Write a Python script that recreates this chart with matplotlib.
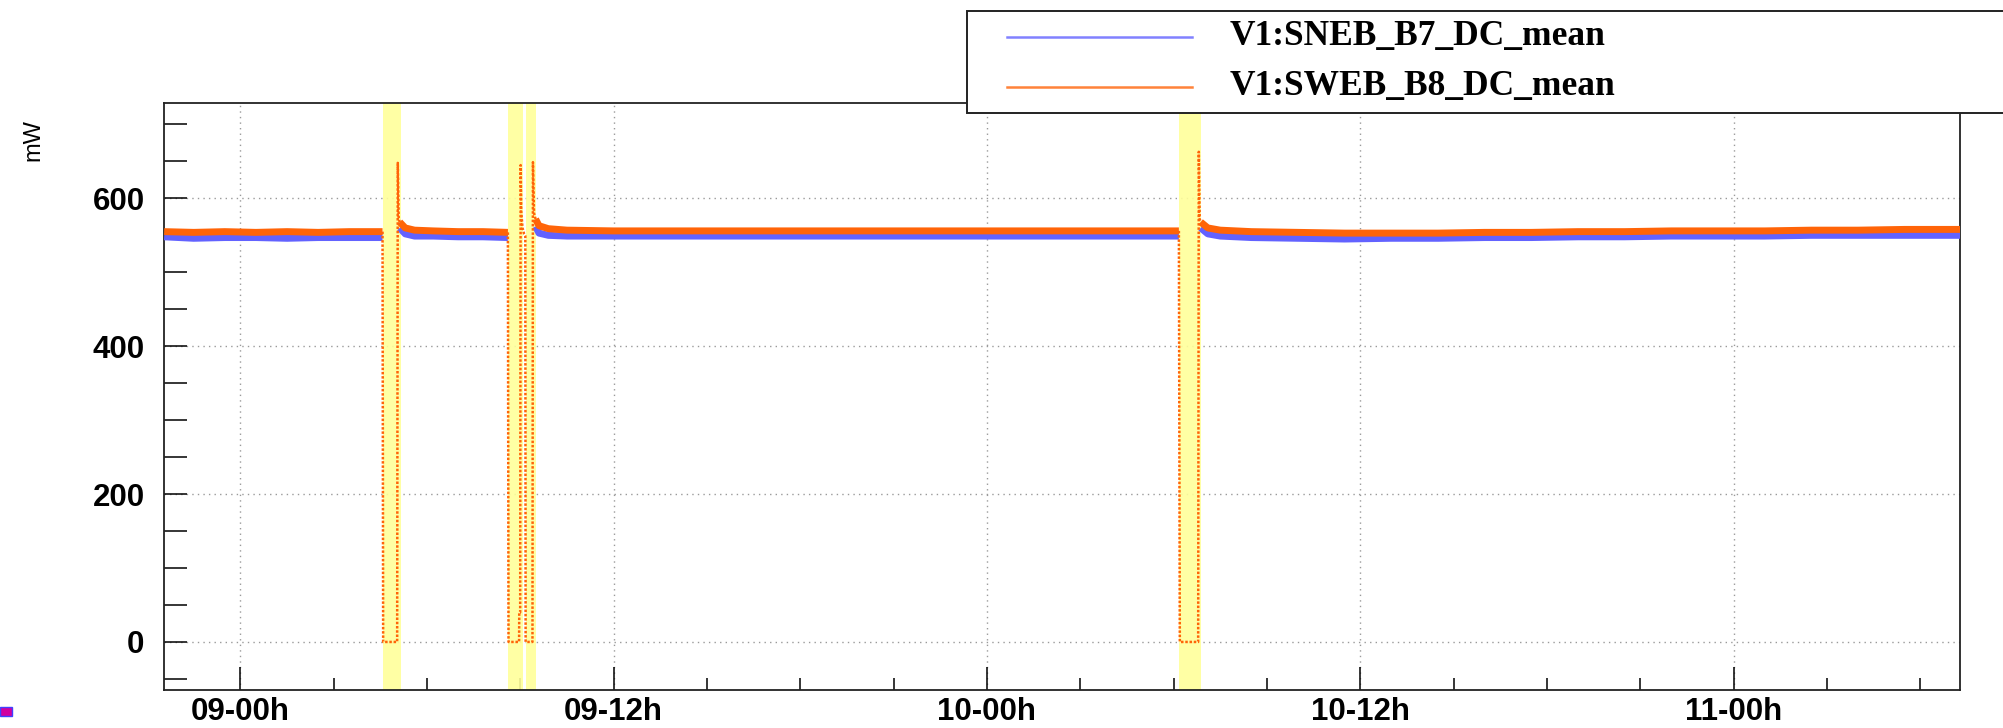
import numpy as np
import matplotlib
matplotlib.use("Agg")
import matplotlib.pyplot as plt
from matplotlib.patches import Rectangle
from matplotlib.lines import Line2D
from matplotlib.ticker import MultipleLocator, FixedLocator

W, H, DPI = 2003, 728, 100

# ---------------- data (time in hours relative to 09-00h) ----------------
series_names = ["V1:SNEB_B7_DC_mean", "V1:SWEB_B8_DC_mean"]
x_tick_hours = [0, 12, 24, 36, 48]
x_tick_labels = ["09-00h", "09-12h", "10-00h", "10-12h", "11-00h"]
y_unit = "mW"

band_starts = [4.57, 8.60, 9.18, 30.17]
band_ends = [5.15, 9.10, 9.49, 30.89]

base_hours = [-2.45, -1.5, -0.5, 0.5, 1.5, 2.5, 3.5, 4.57, 4.8, 5.12, 5.3, 5.6,
              6.2, 7.0, 7.8, 8.60, 8.8, 9.49, 9.6, 9.9, 10.5, 12, 13.5, 15, 16.5,
              18, 19.5, 21, 22.5, 24, 25.5, 27, 28.5, 30.17, 30.5, 30.87, 31.1,
              31.5, 32.5, 34, 35.5, 37, 38.5, 40, 41.5, 43, 44.5, 46, 47.5, 49,
              50.5, 52, 53.5, 55.28]
orange_mw = [555, 554, 555, 554, 555, 554, 555, 555, np.nan, 568, 560, 557,
             556, 555, 555, 554, np.nan, 572, 563, 559, 557, 556, 556, 556, 556,
             556, 556, 556, 556, 556, 556, 556, 556, 556, np.nan, 568, 560,
             557, 555, 554, 553, 553, 553, 554, 554, 555, 555, 556, 556, 556,
             557, 557, 558, 558]
blue_mw = [548, 546, 547, 547, 546, 547, 547, 547, np.nan, 560, 552, 549,
           549, 548, 548, 547, np.nan, 562, 553, 550, 549, 549, 549, 549, 549,
           549, 549, 549, 549, 549, 549, 549, 549, 549, np.nan, 560, 552,
           549, 547, 546, 545, 546, 546, 547, 547, 548, 548, 549, 549, 549,
           550, 550, 550, 550]

# orange trace through the flagged (yellow) intervals
event_hours = [4.57, 4.59, 5.04, 5.06, 5.09, 5.12, np.nan,
               8.60, 8.62, 8.96, 8.965, 8.995, 9.01, 9.03, 9.07, 9.12, 9.16,
               9.17, 9.39, 9.405, 9.44, 9.49, np.nan,
               30.17, 30.20, 30.79, 30.81, 30.84, 30.87]
event_mw = [555, 0, 0, 648, 574, 568, np.nan,
            554, 0, 0, 40, 40, 645, 582, 560, 552, 549,
            0, 0, 649, 580, 572, np.nan,
            556, 0, 0, 663, 572, 568]

# ---------------- styling ----------------
blue = "#6262ff"
orange = "#ff6408"
band_color = "#ffff9a"

fig = plt.figure(figsize=(W / DPI, H / DPI), dpi=DPI)
fig.patch.set_facecolor("white")

def px(x, y):
    return x / W, 1 - y / H

left, right, top, bottom = 164, 1960, 103, 690
ax = fig.add_axes([left / W, 1 - bottom / H, (right - left) / W, (bottom - top) / H])

ax.set_xlim(-2.455, 55.28)
ax.set_ylim(-65, 729)

for s, e in zip(band_starts, band_ends):
    ax.axvspan(s, e, color=band_color, alpha=0.9, lw=0, zorder=1)

ax.plot(base_hours, blue_mw, color=blue, lw=5.0, solid_capstyle="butt", zorder=3)
ax.plot(base_hours, orange_mw, color=orange, lw=5.0, solid_capstyle="butt", zorder=4)
ax.plot(event_hours, event_mw, color=orange, lw=1.8, linestyle=(0, (1, 0.7)), zorder=4)

ax.xaxis.set_major_locator(FixedLocator(x_tick_hours))
ax.set_xticklabels(x_tick_labels)
ax.xaxis.set_minor_locator(MultipleLocator(3))
ax.yaxis.set_major_locator(MultipleLocator(200))
ax.yaxis.set_minor_locator(MultipleLocator(50))

ax.tick_params(axis="x", which="major", direction="in", length=16.5, width=1.1, pad=5,
               top=False, labelsize=22.5)
ax.tick_params(axis="x", which="minor", direction="in", length=8.6, width=1.1, top=False)
ax.tick_params(axis="y", which="major", direction="in", length=16.5, width=1.1, pad=14,
               right=False, labelsize=22.5)
ax.tick_params(axis="y", which="minor", direction="in", length=16.5, width=1.1, right=False)
for lab in ax.get_xticklabels() + ax.get_yticklabels():
    lab.set_fontfamily("Liberation Sans")
    lab.set_fontweight("bold")

ax.grid(which="major", linestyle=(0, (1, 3)), color="#9a9a9a", lw=1.0, zorder=0)
ax.set_axisbelow(True)
for sp in ax.spines.values():
    sp.set_linewidth(1.3)
    sp.set_color("#222222")

# y unit label
fig.text(*px(33, 140), y_unit, rotation=90, ha="center", va="center",
         fontsize=17, family="Liberation Sans")

# legend box
lx0, ly0, lx1, ly1 = 967, 11, 2010, 113
fig.patches.append(Rectangle(px(lx0, ly1), (lx1 - lx0) / W, (ly1 - ly0) / H,
                             transform=fig.transFigure, facecolor="white",
                             edgecolor="#222222", lw=1.4, zorder=10))
for name, col, yy in zip(series_names, [blue, orange], [37, 87]):
    x0, y0 = px(1007, yy)
    x1, _ = px(1192, yy)
    fig.lines.append(Line2D([x0, x1], [y0, y0], transform=fig.transFigure,
                            color=col, lw=1.8, alpha=0.8, zorder=11))
    fig.text(*px(1230, yy), name, ha="left", va="center", fontsize=25.5,
             family="Liberation Serif", fontweight="bold", zorder=11)

# small marker at bottom-left corner
fig.patches.append(Rectangle(px(0, 716), 12 / W, 9 / H, transform=fig.transFigure,
                             facecolor="#d000a0", edgecolor="#4040ff", lw=1.0))

fig.savefig("out.png", dpi=DPI)
